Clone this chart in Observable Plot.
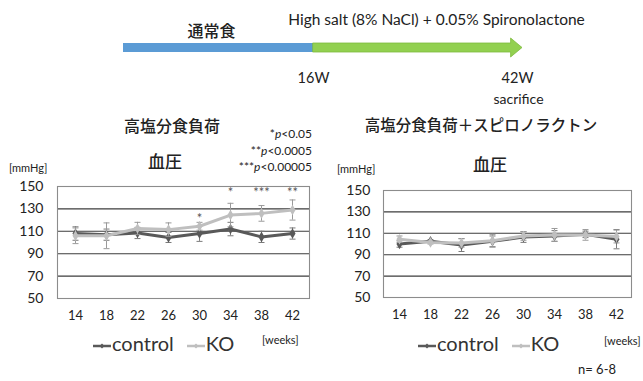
<!DOCTYPE html>
<html><head><meta charset="utf-8">
<script src="https://cdn.jsdelivr.net/npm/d3@7"></script>
<script src="https://cdn.jsdelivr.net/npm/@observablehq/plot@0.6"></script>
<style>
body{margin:0;background:#fff;}
#root{position:relative;width:643px;height:381px;overflow:hidden;font-family:Lato,"Noto Sans CJK JP",sans-serif;color:#222;}
.t{position:absolute;white-space:nowrap;line-height:1;}
.jp{font-family:"Noto Sans CJK JP",sans-serif;}
</style></head><body><div id="root"></div>
<script>
// ---- data ----
const weeks = [14, 18, 22, 26, 30, 34, 38, 42];
const hsControl   = [108, 107, 108.5, 104.5, 108, 112, 105, 108];
const hsControlSd = [6, 5, 5, 4.5, 7, 6, 5, 5];
const hsKO        = [106, 106, 112.5, 111.5, 114.5, 124.5, 126, 129];
const hsKOSd      = [7, 11.5, 5.5, 6, 3.5, 10.5, 7, 9];
const spControl   = [100, 102.5, 99, 102.5, 106.5, 107.5, 109, 104.5];
const spControlSd = [3, 1.5, 6, 5, 5, 5, 3, 9];
const spKO        = [104.5, 101.5, 101, 103, 107.5, 108.5, 108.5, 107];
const spKOSd      = [3, 1.5, 4, 6, 4, 6, 5, 6];
const yTicks = [50, 70, 90, 110, 130, 150];
const sigWeeks = [30, 34, 38, 42];
const sigLabels = ["*", "*", "***", "**"];
const sigLevel = [121, 144, 144, 144];
const pLegend = [["*", "<0.05"], ["**", "<0.0005"], ["***", "<0.00005"]];
const timelineStages = ["start", "16W", "42W"];
const timelineLabels = ["通常食", "High salt (8% NaCl) + 0.05% Spironolactone"];
const seriesNames = ["control", "KO"];

const root = document.getElementById("root");
const C_CTRL = "#595959", C_KO = "#bfbfbf";

function place(html, x, y, opts = {}) {
  const d = document.createElement("div");
  d.className = "t" + (opts.cls ? " " + opts.cls : "");
  d.innerHTML = html;
  d.style.left = x + "px"; d.style.top = y + "px";
  d.style.fontSize = (opts.size || 14) + "px";
  if (opts.color) d.style.color = opts.color;
  if (opts.weight) d.style.fontWeight = opts.weight;
  const ax = opts.anchor === "middle" ? "-50%" : opts.anchor === "end" ? "-100%" : "0";
  d.style.transform = `translate(${ax},-50%)`;
  root.appendChild(d);
  return d;
}
function mount(svg, left, top) {
  svg.style.position = "absolute";
  svg.style.left = left + "px"; svg.style.top = top + "px";
  root.appendChild(svg);
}

// ---- timeline (stage index 0,1,2) ----
const head = 0.1;
const tl = Plot.plot({
  width: 643, height: 110, margin: 0,
  style: {background: "transparent", fontFamily: "Lato, sans-serif", color: "#222"},
  x: {domain: [0, 2], range: [123, 503], axis: null},
  y: {type: "identity", axis: null},
  marks: [
    Plot.rect([{a: 0, b: 1}], {x1: "a", x2: "b", y1: () => 43, y2: () => 52, fill: "#5b9bd5"}),
    Plot.area([
      {w: 1, a: 43, b: 52},
      {w: 2 + head - 0.06, a: 43, b: 52},
      {w: 2 + head - 0.06, a: 38, b: 57},
      {w: 2 + head, a: 47.5, b: 47.5}
    ], {x1: "w", y1: "a", y2: "b", fill: "#92d050", stroke: "#7dba3e", strokeWidth: 0.8}),
    Plot.text([{w: 0.5, s: timelineLabels[0]}], {x: "w", y: () => 31, text: "s", dx: -7, fontSize: 16, fontFamily: "'Noto Sans CJK JP', sans-serif", fontWeight: 500}),
    Plot.text([{w: 1.5, s: timelineLabels[1]}], {x: "w", y: () => 20, text: "s", dx: 28, fontSize: 15.5}),
    Plot.text([{w: 1, s: timelineStages[1]}], {x: "w", y: () => 78, text: "s", fontSize: 14.5}),
    Plot.text([{w: 2, s: timelineStages[2]}], {x: "w", y: () => 78, text: "s", dx: 14, fontSize: 14.5}),
    Plot.text([{w: 2, s: "sacrifice"}], {x: "w", y: () => 99, text: "s", dx: 15, fontSize: 14})
  ]
});
mount(tl, 0, 0);

// ---- charts ----
function rows(vals, sds) {
  return weeks.map((w, i) => ({week: w, value: vals[i], lo: vals[i] - sds[i], hi: vals[i] + sds[i]}));
}
const capSymbol = {draw(ctx, size) { const r = Math.sqrt(size / Math.PI); ctx.moveTo(-r, 0); ctx.lineTo(r, 0); }};
function series(d, color, barColor) {
  return [
    Plot.ruleX(d, {x: "week", y1: "lo", y2: "hi", stroke: barColor, strokeWidth: 1}),
    Plot.dot(d, {x: "week", y: "lo", symbol: capSymbol, r: 3, stroke: barColor, strokeWidth: 1}),
    Plot.dot(d, {x: "week", y: "hi", symbol: capSymbol, r: 3, stroke: barColor, strokeWidth: 1}),
    Plot.line(d, {x: "week", y: "value", stroke: color, strokeWidth: 3}),
    Plot.dot(d, {x: "week", y: "value", symbol: "diamond", r: 3.2, fill: color})
  ];
}
function chart({control, controlSd, ko, koSd, width, height, mt, mb, ml, mr, yPad, extra = []}) {
  const svg = Plot.plot({
    width, height, marginTop: mt, marginBottom: mb, marginLeft: ml, marginRight: mr,
    style: {background: "transparent", fontFamily: "Lato, sans-serif", fontSize: "14px", color: "#222"},
    x: {type: "point", domain: weeks, padding: 0.5, tickSize: 0, tickPadding: 12, label: null},
    y: {domain: [50, 150], ticks: yTicks, tickSize: 0, tickPadding: yPad, label: null},
    marks: [
      Plot.ruleY(yTicks.slice(1, -1), {stroke: "#3c3c3c", strokeWidth: 1.1}),
      Plot.frame({stroke: "#8c8c8c", strokeWidth: 1.1}),
      ...series(rows(control, controlSd), C_CTRL, "#7a7a7a"),
      ...series(rows(ko, koSd), C_KO, "#9a9a9a"),
      ...extra
    ]
  });
  svg.querySelectorAll('g[aria-label="x-axis tick label"] text').forEach(t => t.setAttribute("font-size", "13"));
  return svg;
}
const sig = sigWeeks.map((w, i) => ({week: w, y: sigLevel[i], t: sigLabels[i]}));
const left = chart({control: hsControl, controlSd: hsControlSd, ko: hsKO, koSd: hsKOSd,
  width: 320, height: 160, mt: 16, mb: 32, ml: 57, mr: 11, yPad: 14,
  extra: [Plot.text(sig, {x: "week", y: "y", text: "t", fill: "#555", fontSize: 13})]});
mount(left, 0, 170);
const right = chart({control: spControl, controlSd: spControlSd, ko: spKO, koSd: spKOSd,
  width: 317, height: 160, mt: 20, mb: 33, ml: 57, mr: 12, yPad: 13});
mount(right, 326, 170);

// ---- titles ----
place("高塩分食負荷", 172, 125, {anchor: "middle", size: 16, cls: "jp", weight: 500});
place("血圧", 165, 160, {anchor: "middle", size: 17, cls: "jp", weight: 500});
place("[mmHg]", 9, 167, {size: 11});
pLegend.forEach(([s, v], i) => place(`${s}<i>p</i>${v}`, 312, 134 + i * 16.5, {anchor: "end", size: 12}));
place("高塩分食負荷＋スピロノラクトン", 481, 125, {anchor: "middle", size: 15.5, cls: "jp", weight: 500});
place("血圧", 490, 163, {anchor: "middle", size: 17, cls: "jp", weight: 500});
place("[mmHg]", 337, 168, {size: 11});

// ---- legends ----
function legendKey(color) {
  return `<svg width="18" height="10" style="vertical-align:middle;margin-right:1px"><line x1="0" x2="18" y1="5" y2="5" stroke="${color}" stroke-width="2.5"/><path d="M9,2.5L11.5,5L9,7.5L6.5,5Z" fill="${color}"/></svg>`;
}
function legend(x) {
  place(`${legendKey(C_CTRL)}${seriesNames[0]}<span style="display:inline-block;width:13px"></span>${legendKey(C_KO)}${seriesNames[1]}`, x, 343, {size: 20, color: "#333"});
}
legend(93);
legend(418);
place("[weeks]", 262, 339, {size: 11});
place("[weeks]", 604, 340, {size: 11});
place("n= 6-8", 578, 369, {size: 13});
</script></body></html>
